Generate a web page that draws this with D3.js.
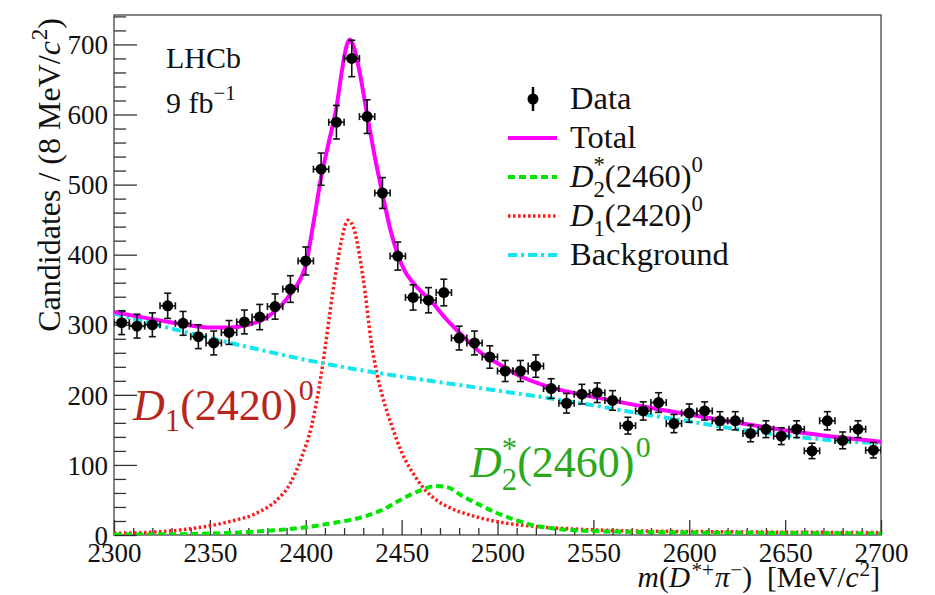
<!DOCTYPE html>
<html>
<head>
<meta charset="utf-8">
<script src="https://cdn.jsdelivr.net/npm/d3@7"></script>
<style>
  html, body { margin: 0; padding: 0; background: #fff; }
  svg { display: block; font-family: "Liberation Serif", "Times New Roman", serif; }
</style>
</head>
<body>
<svg id="chart" width="935" height="595"></svg>
<script>
// ---- Data: D*+ pi- invariant mass, 8 MeV bins ----
const binCenters = [2304,2312,2320,2328,2336,2344,2352,2360,2368,2376,
                    2384,2392,2400,2408,2416,2424,2432,2440,2448,2456,
                    2464,2472,2480,2488,2496,2504,2512,2520,2528,2536,
                    2544,2552,2560,2568,2576,2584,2592,2600,2608,2616,
                    2624,2632,2640,2648,2656,2664,2672,2680,2688,2696];
const candidates = [303,298,300,327,302,283,274,289,304,311,
                    326,351,391,522,589,680,597,488,398,339,
                    335,346,281,274,254,234,234,241,209,188,
                    201,203,192,156,177,189,159,174,177,163,
                    163,145,151,141,151,120,163,135,151,121];
const candErr = [17,17,17,18,17,17,17,17,17,18,
                 18,19,20,23,24,26,24,22,20,18,
                 18,19,17,17,16,15,15,16,14,14,
                 14,14,14,12,13,14,13,13,13,13,
                 13,12,12,12,12,11,13,12,12,11];
const binHalfWidth = 4;

// ---- Fit components ----
const totalMass = [2300,2320,2340,2350,2360,2370,2380,2388,2392,2397,2400,2404,2408,2412,2416,2419,2421,2423,2425,2428,2432,2436,2440,2444,2448,2452,2456,2460,2465,2472,2480,2490,2500,2510,2526,2552,2587,2621,2656,2700];
const totalVal  = [318,308,299,296,296,300,311,330,344,364,385,445,510,560,610,665,695,707,697,662,600,540,487,437,400,375,360,348,335,312,289,263,245,229,212,196,178,162,147,133];

const d1Mass = [2300,2320,2340,2360,2375,2385,2392,2398,2403,2408,2412,2414,2416,2419,2422,2425,2428,2431,2434,2437,2440,2445,2450,2456,2462,2468,2475,2485,2500,2520,2540,2560,2580,2600,2650,2700];
const d1Val  = [2.5,4,9,19,32,50,74,112,155,228,305,345,380,425,449,438,400,345,278,232,198,155,118,88,65,50,39,29,19,12,8.5,6.5,5.5,5,4,3.5];

const d2Mass = [2300,2340,2360,2380,2400,2413,2430,2440,2448,2455,2461,2468,2474,2482,2490,2500,2510,2517,2530,2545,2570,2600,2640,2700];
const d2Val  = [0.5,1.5,3,6,11,16.5,26,36,48,58,65,70,68,55,44,31,21,15,9,6,4.5,3.5,3,2];

const bkgMass = [2300,2325,2350,2375,2400,2425,2450,2475,2500,2525,2550,2575,2600,2625,2650,2675,2700];
const bkgVal  = [316,298,281,265,250,237,226,216,206,196,185,173,162,151,142,135,131];

// ---- Axis ticks ----
const xTicks = [2300,2350,2400,2450,2500,2550,2600,2650,2700];
const yTicks = [0,100,200,300,400,500,600,700];

const legendItems = ["Data", "Total", "D2", "D1", "Background"];

// ---- Layout ----
const svg = d3.select("#chart");
const plotL = 114, plotR = 881, plotT = 15, plotB = 535;
const x = d3.scaleLinear().domain([2300, 2700]).range([plotL, plotR]);
const y = d3.scaleLinear().domain([0, 742]).range([plotB, plotT]);

const axisColor = "#333";
const serif = "Liberation Serif, Times New Roman, serif";

svg.append("defs").append("clipPath").attr("id", "plotclip")
  .append("rect").attr("x", plotL).attr("y", plotT).attr("width", plotR - plotL).attr("height", plotB - plotT);

// Frame
svg.append("rect").attr("x", plotL).attr("y", plotT).attr("width", plotR - plotL).attr("height", plotB - plotT)
  .attr("fill", "none").attr("stroke", "#444").attr("stroke-width", 1.3);

// Y axis: major + minor ticks pointing inward
const yMinor = d3.range(20, 742, 20).filter(v => v % 100 !== 0);
const yAxisMinor = svg.append("g").attr("transform", `translate(${plotL},0)`)
  .call(d3.axisLeft(y).tickValues(yMinor).tickSize(-12).tickFormat(""));
const yAxis = svg.append("g").attr("transform", `translate(${plotL},0)`)
  .call(d3.axisLeft(y).tickValues(yTicks).tickSize(-23).tickPadding(6).tickFormat(d3.format("d")));

const xMinor = d3.range(2310, 2700, 10).filter(v => v % 50 !== 0);
const xAxisMinor = svg.append("g").attr("transform", `translate(0,${plotB})`)
  .call(d3.axisBottom(x).tickValues(xMinor).tickSize(-7).tickFormat(""));
const xAxis = svg.append("g").attr("transform", `translate(0,${plotB})`)
  .call(d3.axisBottom(x).tickValues(xTicks).tickSize(-15).tickPadding(8).tickFormat(d3.format("d")));

[yAxisMinor, yAxis, xAxisMinor, xAxis].forEach(a => {
  a.attr("font-family", serif);
  a.select(".domain").remove();
  a.selectAll(".tick line").attr("stroke", axisColor).attr("stroke-width", 1.3);
  a.selectAll(".tick text").attr("font-size", 27).attr("fill", "#111").attr("font-family", serif);
});
yAxis.selectAll(".tick text").attr("dy", "0.34em");
xAxis.selectAll(".tick text").attr("dy", "0.7em");

// ---- Curves ----
const plot = svg.append("g").attr("clip-path", "url(#plotclip)");
const lineGen = d3.line().x(d => x(d[0])).y(d => y(d[1])).curve(d3.curveMonotoneX);
const pairs = (ms, vs) => ms.map((m, i) => [m, vs[i]]);

const styles = {
  total: { color: "#ff00ff", width: 4, dash: null },
  d2: { color: "#00e400", width: 4, dash: "7,4" },
  d1: { color: "#ff1a1a", width: 3.5, dash: "2.5,2.5" },
  bkg: { color: "#11e6ee", width: 4, dash: "9,4,3,4" }
};

function drawCurve(data, st) {
  const p = plot.append("path").datum(data).attr("d", lineGen)
    .attr("fill", "none").attr("stroke", st.color).attr("stroke-width", st.width);
  if (st.dash) p.attr("stroke-dasharray", st.dash);
}
drawCurve(pairs(d1Mass, d1Val), styles.d1);
drawCurve(pairs(d2Mass, d2Val), styles.d2);
drawCurve(pairs(bkgMass, bkgVal), styles.bkg);
drawCurve(pairs(totalMass, totalVal), styles.total);

// ---- Data points with error bars ----
const pts = plot.append("g").selectAll("g").data(binCenters.map((m, i) => ({ m, v: candidates[i], e: candErr[i] })))
  .join("g");
const cap = 3.5;
pts.append("line").attr("x1", d => x(d.m)).attr("x2", d => x(d.m))
  .attr("y1", d => y(d.v - d.e)).attr("y2", d => y(d.v + d.e));
pts.append("line").attr("x1", d => x(d.m) - cap).attr("x2", d => x(d.m) + cap)
  .attr("y1", d => y(d.v + d.e)).attr("y2", d => y(d.v + d.e));
pts.append("line").attr("x1", d => x(d.m) - cap).attr("x2", d => x(d.m) + cap)
  .attr("y1", d => y(d.v - d.e)).attr("y2", d => y(d.v - d.e));
pts.append("line").attr("x1", d => x(d.m - binHalfWidth)).attr("x2", d => x(d.m + binHalfWidth))
  .attr("y1", d => y(d.v)).attr("y2", d => y(d.v));
pts.append("line").attr("x1", d => x(d.m - binHalfWidth)).attr("x2", d => x(d.m - binHalfWidth))
  .attr("y1", d => y(d.v) - cap).attr("y2", d => y(d.v) + cap);
pts.append("line").attr("x1", d => x(d.m + binHalfWidth)).attr("x2", d => x(d.m + binHalfWidth))
  .attr("y1", d => y(d.v) - cap).attr("y2", d => y(d.v) + cap);
pts.selectAll("line").attr("stroke", "#111").attr("stroke-width", 1.6);
pts.append("circle").attr("cx", d => x(d.m)).attr("cy", d => y(d.v)).attr("r", 5.5).attr("fill", "#000");

// ---- Rich text helper (italic, sub/superscripts, stacked scripts) ----
function rich(parent, px, py, parts, size, color, anchor) {
  const g = parent.append("g");
  let cx = 0, prevStart = 0;
  parts.forEach(p => {
    const s = size * (p.sc || 1);
    const start = p.stack ? prevStart : cx + (p.dx || 0) * size;
    const t = g.append("text").attr("x", start).attr("y", (p.dy || 0) * size)
      .attr("font-size", s).attr("font-style", p.it ? "italic" : "normal")
      .attr("font-family", serif).attr("fill", color).text(p.t);
    const w = t.node().getComputedTextLength();
    if (p.stack) cx = Math.max(cx, start + w);
    else { prevStart = start; cx = start + w; }
  });
  const shift = anchor === "end" ? -cx : anchor === "middle" ? -cx / 2 : 0;
  g.attr("transform", `translate(${px + shift},${py})`);
  return g;
}

// ---- Axis titles ----
const yTitle = svg.append("g").attr("transform", "translate(60,18) rotate(-90)");
rich(yTitle, 0, 0, [
  { t: "Candidates / (8 MeV/" },
  { t: "c", it: true },
  { t: "2", sc: 0.72, dy: -0.4, dx: 0.03 },
  { t: ")" }
], 32, "#111", "end");

rich(svg, 880, 587, [
  { t: "m", it: true },
  { t: "(" },
  { t: "D", it: true },
  { t: "*+", sc: 0.72, dy: -0.34, dx: 0.05 },
  { t: "π", it: true, dx: 0.03 },
  { t: "−", sc: 0.72, dy: -0.34, dx: 0.02 },
  { t: ")" },
  { t: "[MeV/", dx: 0.5 },
  { t: "c", it: true },
  { t: "2", sc: 0.72, dy: -0.36, dx: 0.03 },
  { t: "]" }
], 29.5, "#111", "end");

// ---- Experiment labels ----
svg.append("text").attr("x", 166).attr("y", 68).attr("font-size", 30).attr("font-family", serif)
  .attr("fill", "#111").text("LHCb");
rich(svg, 166, 113, [
  { t: "9 fb" },
  { t: "−1", sc: 0.7, dy: -0.42 }
], 30, "#111");

// ---- Legend ----
const lg = svg.append("g");
const legX1 = 508, legX2 = 557, legText = 570;
const rowY = [99, 138, 177, 216, 255];
// Data marker
lg.append("line").attr("x1", 533).attr("x2", 533).attr("y1", rowY[0] - 12).attr("y2", rowY[0] + 12)
  .attr("stroke", "#000").attr("stroke-width", 2.5);
lg.append("circle").attr("cx", 533).attr("cy", rowY[0]).attr("r", 5.5).attr("fill", "#000");
const legStyles = [null, styles.total, styles.d2, styles.d1, styles.bkg];
legStyles.forEach((st, i) => {
  if (!st) return;
  const l = lg.append("line").attr("x1", legX1).attr("x2", legX2).attr("y1", rowY[i]).attr("y2", rowY[i])
    .attr("stroke", st.color).attr("stroke-width", st.width);
  if (st.dash) l.attr("stroke-dasharray", st.dash);
});
const legFont = 32.5;
[0, 1, 4].forEach(i => {
  lg.append("text").attr("x", legText).attr("y", rowY[i] + 10).attr("font-size", legFont)
    .attr("font-family", serif).attr("fill", "#111").text(legendItems[i]);
});
rich(lg, legText, rowY[2] + 10, [
  { t: "D", it: true },
  { t: "2", sc: 0.7, dy: 0.3 },
  { t: "*", sc: 0.7, dy: -0.45, stack: true },
  { t: "(2460)" },
  { t: "0", sc: 0.7, dy: -0.45 }
], legFont, "#111");
rich(lg, legText, rowY[3] + 10, [
  { t: "D", it: true },
  { t: "1", sc: 0.7, dy: 0.3 },
  { t: "(2420)" },
  { t: "0", sc: 0.7, dy: -0.45 }
], legFont, "#111");

// ---- Component labels on the plot ----
rich(svg, 133, 420, [
  { t: "D", it: true },
  { t: "1", sc: 0.7, dy: 0.25 },
  { t: "(2420)" },
  { t: "0", sc: 0.68, dy: -0.45, dx: 0.03 }
], 44, "#b8261b");
rich(svg, 470, 477, [
  { t: "D", it: true },
  { t: "2", sc: 0.7, dy: 0.3 },
  { t: "*", sc: 0.7, dy: -0.4, stack: true },
  { t: "(2460)" },
  { t: "0", sc: 0.68, dy: -0.45, dx: 0.03 }
], 44, "#2aa81e");
</script>
</body>
</html>
